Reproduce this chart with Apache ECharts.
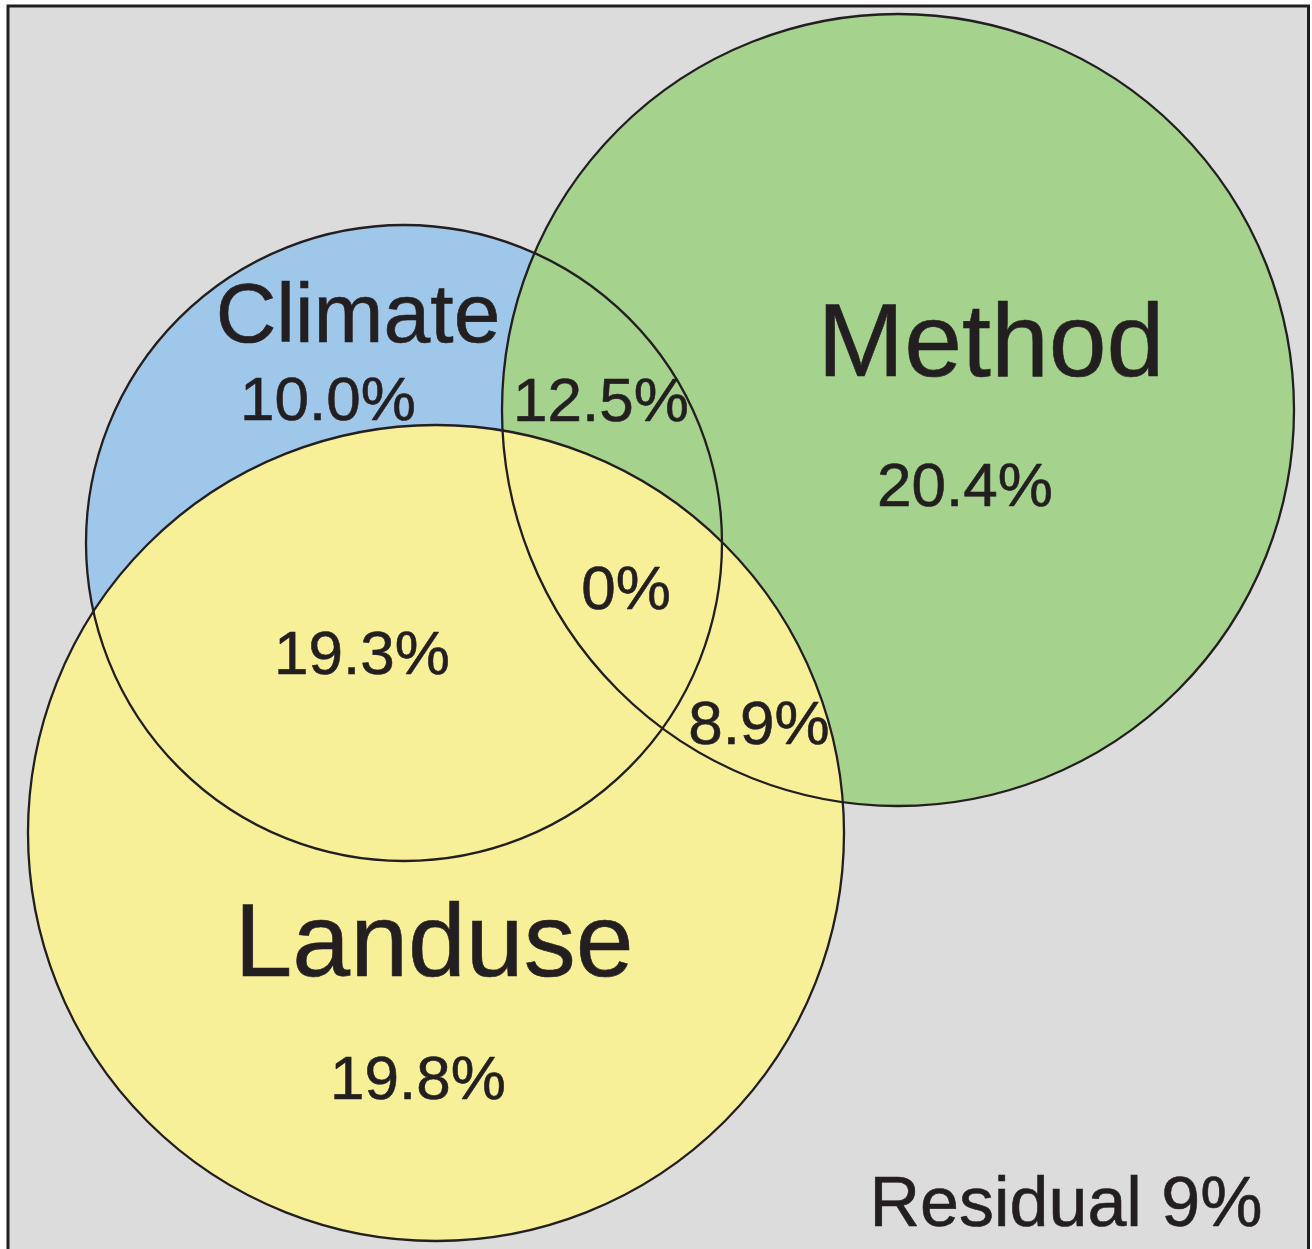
<!DOCTYPE html>
<html>
<head>
<meta charset="utf-8">
<script src="https://cdn.jsdelivr.net/npm/echarts@6/dist/echarts.min.js"></script>
<style>
html,body{margin:0;padding:0;background:#ffffff;}
#chart{width:1312px;height:1249px;}
</style>
</head>
<body>
<div id="chart"></div>
<script>
// ---- data ----
var setNames = ['Climate', 'Method', 'Landuse'];
var setCenterX = [404, 898, 436];
var setCenterY = [543, 410, 833];
var setRadius = [318, 396, 408];

var labelTexts = ['Climate', '10.0%', '12.5%', 'Method', '20.4%', '0%', '19.3%', '8.9%', 'Landuse', '19.8%', 'Residual 9%'];
var labelX = [358, 328, 601, 991, 965, 626, 362, 759, 434, 418, 1066];
var labelY = [319, 403, 404, 347, 489, 592, 657, 727, 947, 1082, 1207];
var labelKind = ['title', 'value', 'value', 'bigTitle', 'value', 'value', 'value', 'value', 'bigTitle', 'value', 'residual'];

// ---- style ----
var fills = ['#9fc7ea', '#a5d28c', '#f7f098'];
var ink = '#231f20';
var fontFamily = '"Liberation Sans", Arial, Helvetica, sans-serif';
var kindSize = { title: 84, bigTitle: 104, value: 62, residual: 70 };

var circleData = setNames.map(function (n, i) {
  return { name: n, value: [setCenterX[i], setCenterY[i], setRadius[i], i] };
});

var labelData = labelTexts.map(function (t, i) {
  return {
    name: t,
    value: [labelX[i], labelY[i]],
    label: { fontSize: kindSize[labelKind[i]] }
  };
});

function circleRender(strokeOnly) {
  return function (params, api) {
    var c = api.coord([api.value(0), api.value(1)]);
    var r = api.size([api.value(2), api.value(2)])[0];
    var idx = api.value(3);
    return {
      type: 'circle',
      shape: { cx: c[0], cy: c[1], r: r },
      style: strokeOnly
        ? { fill: null, stroke: ink, lineWidth: 2.3 }
        : { fill: fills[idx], stroke: null }
    };
  };
}

var chart = echarts.init(document.getElementById('chart'), null, { renderer: 'canvas' });
chart.setOption({
  animation: false,
  backgroundColor: '#ffffff',
  graphic: [{
    type: 'rect',
    z: -10,
    silent: true,
    shape: { x: 8, y: 6, width: 1300.5, height: 1270 },
    style: { fill: '#dcdcdc', stroke: ink, lineWidth: 3 }
  }],
  grid: { left: 0, right: 0, top: 0, bottom: 0 },
  xAxis: { type: 'value', min: 0, max: 1312, show: false },
  yAxis: { type: 'value', min: 0, max: 1249, inverse: true, show: false },
  series: [
    {
      type: 'custom',
      coordinateSystem: 'cartesian2d',
      renderItem: circleRender(false),
      data: circleData,
      z: 1,
      silent: true
    },
    {
      type: 'custom',
      coordinateSystem: 'cartesian2d',
      renderItem: circleRender(true),
      data: circleData,
      z: 2,
      silent: true
    },
    {
      type: 'scatter',
      symbolSize: 0,
      z: 3,
      silent: true,
      itemStyle: { opacity: 1 },
      data: labelData,
      label: {
        show: true,
        position: 'inside',
        formatter: '{b}',
        color: ink,
        opacity: 1,
        fontFamily: fontFamily,
        align: 'center',
        verticalAlign: 'middle',
        textBorderWidth: 0.6,
        textBorderColor: ink
      }
    }
  ]
});
</script>
</body>
</html>
